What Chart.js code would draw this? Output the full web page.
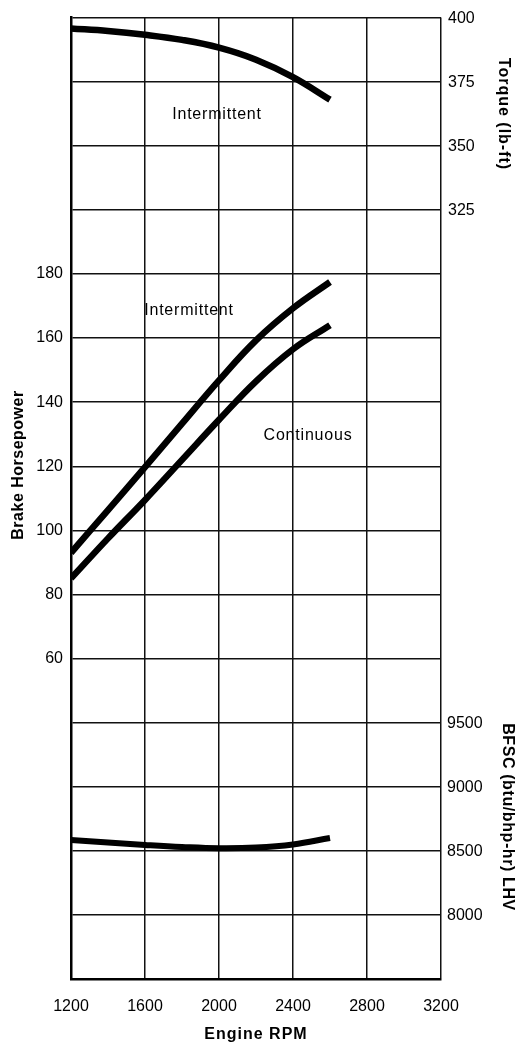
<!DOCTYPE html>
<html>
<head>
<meta charset="utf-8">
<script src="https://cdn.jsdelivr.net/npm/chart.js@4"></script>
<style>
  body { margin: 0; background: #fff; }
  #chart { display: block; }
</style>
</head>
<body>
<canvas id="chart" width="518" height="1047"></canvas>
<script>
// engine speed (rpm) where the curves were read
const rpm = [1200, 1400, 1600, 1800, 2000, 2200, 2400, 2600];
// torque, intermittent rating (lb-ft)
const torqueIntermittent = [395.8, 394.8, 393.3, 391.3, 388.3, 383.6, 376.8, 368];
// brake horsepower
const hpIntermittent = [93, 106.3, 119.7, 133.3, 146.8, 159.3, 169.3, 177.5];
const hpContinuous = [85, 97.5, 109.5, 122, 134.5, 146.5, 156.5, 164];
// fuel consumption btu/bhp-hr
const bfsc = [8585, 8565, 8546, 8530, 8520, 8525, 8549, 8600];

// tick labels that are actually printed on each axis
const hpTicks = [60, 80, 100, 120, 140, 160, 180];
const torqueTicks = [325, 350, 375, 400];
const bfscTicks = [8000, 8500, 9000, 9500];

const FONT = "'Liberation Sans', Arial, Helvetica, sans-serif";

function pts(ys) {
  return rpm.map((x, i) => ({ x: x, y: ys[i] }));
}

const lineStyle = {
  borderColor: "#000",
  borderWidth: 6.5,
  borderCapStyle: "butt",
  pointRadius: 0,
  fill: false,
  tension: 0.4
};

// draws the right hand tick labels, the axis titles and the curve notes
const extrasPlugin = {
  id: "extras",
  afterDraw(chart) {
    const ctx = chart.ctx;
    const area = chart.chartArea;
    const torqueScale = chart.scales.yTorque;
    const bfscScale = chart.scales.yBfsc;

    ctx.save();
    ctx.fillStyle = "#000";
    ctx.font = "16px " + FONT;
    ctx.textAlign = "left";
    ctx.textBaseline = "middle";
    torqueTicks.forEach((v) => {
      ctx.fillText(String(v), area.right + 7, torqueScale.getPixelForValue(v) + 1);
    });
    bfscTicks.forEach((v) => {
      ctx.fillText(String(v), area.right + 6, bfscScale.getPixelForValue(v) + 1);
    });

    // notes on the curves
    ctx.textAlign = "center";
    ctx.letterSpacing = "0.8px";
    ctx.fillText("Intermittent", 217, 115);
    ctx.fillText("Intermittent", 189, 311);
    ctx.fillText("Continuous", 308, 436);

    // axis titles
    ctx.font = "bold 16px " + FONT;
    ctx.letterSpacing = "1px";
    ctx.fillText("Engine RPM", (area.left + area.right) / 2, 1035);

    ctx.save();
    ctx.translate(19, 465);
    ctx.rotate(-Math.PI / 2);
    ctx.letterSpacing = "0.5px";
    ctx.fillText("Brake Horsepower", 0, 0);
    ctx.restore();

    ctx.save();
    ctx.translate(503, 114);
    ctx.rotate(Math.PI / 2);
    ctx.fillText("Torque (lb-ft)", 0, 0);
    ctx.restore();

    ctx.save();
    ctx.translate(507, 817);
    ctx.rotate(Math.PI / 2);
    ctx.letterSpacing = "0.6px";
    ctx.fillText("BFSC (btu/bhp-hr) LHV", 0, 0);
    ctx.restore();

    ctx.restore();
  }
};

new Chart(document.getElementById("chart"), {
  type: "line",
  data: {
    datasets: [
      Object.assign({ label: "Torque Intermittent", data: pts(torqueIntermittent), yAxisID: "yTorque" }, lineStyle),
      Object.assign({ label: "HP Intermittent", data: pts(hpIntermittent), yAxisID: "yHp" }, lineStyle),
      Object.assign({ label: "HP Continuous", data: pts(hpContinuous), yAxisID: "yHp" }, lineStyle),
      Object.assign({ label: "BFSC", data: pts(bfsc), yAxisID: "yBfsc" }, lineStyle, { borderWidth: 6 })
    ]
  },
  options: {
    responsive: false,
    animation: false,
    layout: { padding: { top: 15, right: 77, bottom: 0, left: 0 } },
    plugins: {
      legend: { display: false },
      tooltip: { enabled: false }
    },
    scales: {
      x: {
        type: "linear",
        min: 1200,
        max: 3200,
        afterFit: (scale) => { scale.height = 68; },
        ticks: {
          stepSize: 400,
          padding: 18,
          color: "#000",
          font: { family: FONT, size: 16 },
          maxRotation: 0,
          callback: (v) => String(v)
        },
        grid: { color: "#111", lineWidth: 1.5, drawTicks: false },
        border: { color: "#000", width: 2.5 }
      },
      yHp: {
        type: "linear",
        position: "left",
        min: -40,
        max: 260,
        afterFit: (scale) => { scale.width = 71; },
        ticks: {
          stepSize: 20,
          padding: 8,
          color: "#000",
          font: { family: FONT, size: 16 },
          callback: (v) => (hpTicks.includes(v) ? String(v) : "")
        },
        grid: { color: "#111", lineWidth: 1.5, drawTicks: false },
        border: { color: "#000", width: 2.5 }
      },
      yTorque: {
        type: "linear",
        display: false,
        min: 25,
        max: 400
      },
      yBfsc: {
        type: "linear",
        display: false,
        min: 7500,
        max: 15000
      }
    }
  },
  plugins: [extrasPlugin]
});
</script>
</body>
</html>
